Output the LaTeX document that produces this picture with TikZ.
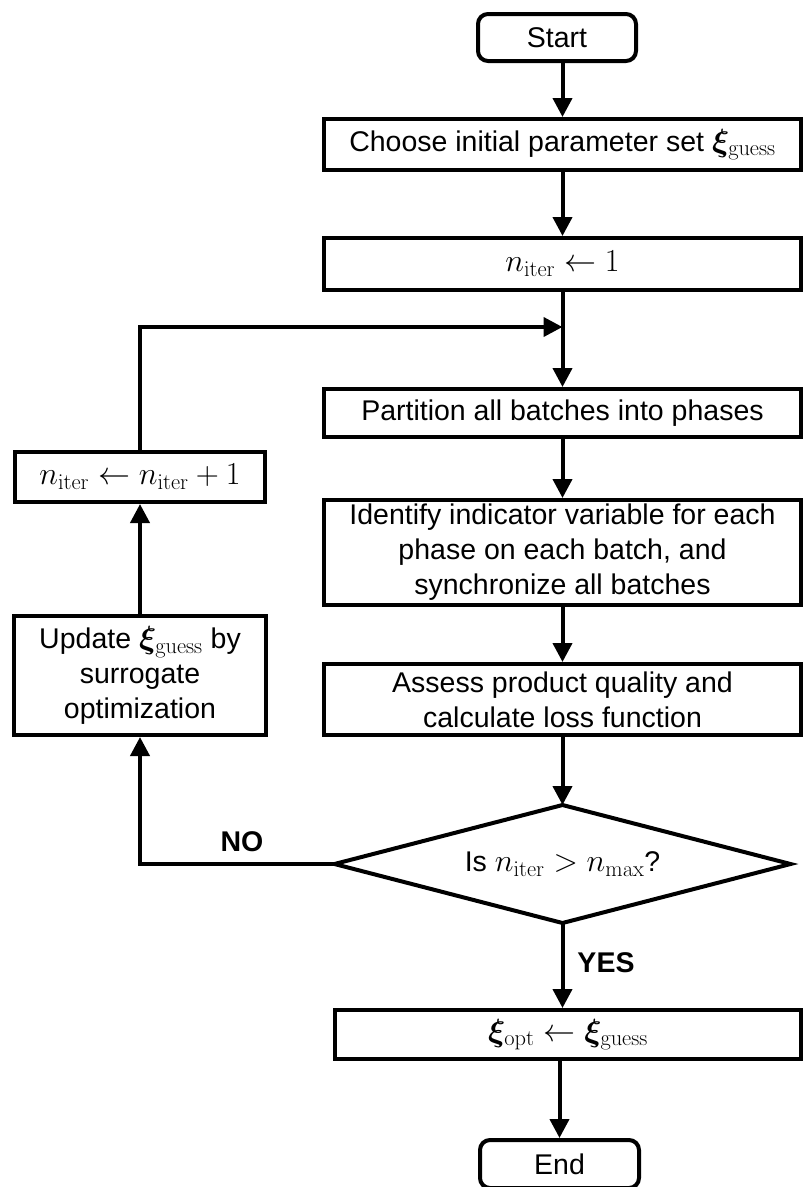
\RequirePackage{fix-cm}
\documentclass[tikz,border=0pt]{standalone}
\usepackage{amsmath}
\usepackage{bm}
\usepackage[no-math]{fontspec}
\setmainfont{Liberation Sans}
\usetikzlibrary{arrows.meta}

% formulas are set a little larger than the surrounding text
\newcommand{\mth}[1]{{\fontsize{32}{35}\selectfont$#1$}}
\newcommand{\xig}{\bm{\xi}_{\mathrm{guess}}}
\newcommand{\nit}{n_{\mathrm{iter}}}

\begin{document}
\begin{tikzpicture}[x=1pt,y=-1pt,
  every node/.style={font=\fontsize{28.5}{35}\selectfont},
  proc/.style={draw, line width=4pt, rectangle, inner sep=0pt, align=center},
  term/.style={proc, rounded corners=10pt},
  edge/.style={line width=4pt},
  arr/.style={edge, -{Triangle[length=19pt,width=19pt]}},
  lbl/.style={font=\fontsize{28.5}{35}\selectfont\bfseries}]

\useasboundingbox (0,0) rectangle (805,1187);

% main column
\node[term, minimum width=158pt, minimum height=47pt] (start) at (557,37.5) {Start};
\node[proc, minimum width=477pt, minimum height=51pt] (choose) at (562.5,144.5)
  {Choose initial parameter set \mth{\xig}};
\node[proc, minimum width=477pt, minimum height=52pt] (init) at (562.5,264)
  {\mth{\nit \leftarrow 1}};
\coordinate (join) at (562.5,327);
\node[proc, minimum width=477pt, minimum height=48pt] (part) at (562.5,413)
  {Partition all batches into phases};
\node[proc, minimum width=477pt, minimum height=105pt] (ident) at (562.5,552.5)
  {Identify indicator variable for each\\phase on each batch, and\\synchronize all batches};
\node[proc, minimum width=477pt, minimum height=71pt] (assess) at (562.5,699.5)
  {Assess product quality and\\calculate loss function};

% decision diamond: corner points and its question
\coordinate (dtop) at (562.5,805);
\coordinate (dright) at (790.5,864);
\coordinate (dbot) at (562.5,923);
\coordinate (dleft) at (334.5,864);
\draw[edge, line join=miter] (dtop) -- (dright) -- (dbot) -- (dleft) -- cycle;
\node (dec) at (562.5,864) {Is \mth{\nit > n_{\max}}?};

\node[proc, minimum width=466pt, minimum height=49pt] (opt) at (568,1034.5)
  {\mth{\bm{\xi}_{\mathrm{opt}} \leftarrow \xig}};
\node[term, minimum width=159pt, minimum height=48pt] (end) at (559.5,1164) {End};

% loop column
\node[proc, minimum width=252pt, minimum height=119pt] (upd) at (140,675.5)
  {Update \mth{\xig} by\\surrogate\\optimization};
\node[proc, minimum width=250pt, minimum height=50pt] (inc) at (140,477)
  {\mth{\nit \leftarrow \nit + 1}};

% connectors
\draw[arr] (choose.north |- start.south) -- (choose.north);
\draw[arr] (choose.south) -- (init.north);
\draw[edge] (init.south) -- (join);
\draw[arr] (join) -- (part.north);
\draw[arr] (part.south) -- (ident.north);
\draw[arr] (ident.south) -- (assess.north);
\draw[arr] (assess.south) -- (assess.south |- dtop);
\draw[arr] (dbot) -- (opt.north -| dbot);
\draw[arr] (end.north |- opt.south) -- (end.north);
\draw[arr] (dleft) -| (upd.south);
\draw[arr] (upd.north) -- (inc.south);
\draw[arr] (inc.north) |- (join);

% branch labels
\node[lbl] (no) at (242,842) {NO};
\node[lbl] (yes) at (606,963) {YES};

\end{tikzpicture}
\end{document}
